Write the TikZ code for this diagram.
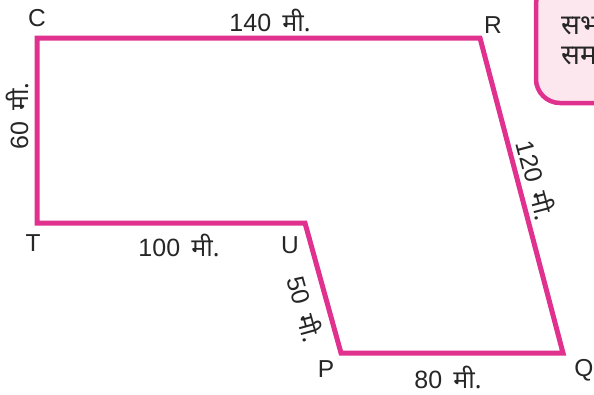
\documentclass[tikz,border=0pt]{standalone}
\usepackage{fontspec}
\setmainfont{Liberation Sans}
\newfontfamily\dev[Script=Devanagari]{Noto Sans}
\definecolor{mag}{HTML}{E0318F}
\definecolor{pinkfill}{HTML}{FDE7EF}
\begin{document}
\begin{tikzpicture}[x=1pt,y=-1pt,
  edge/.style={draw=mag,line width=5pt,line join=miter},
  lbl/.style={font=\fontsize{24.5}{28}\selectfont,inner sep=0pt,text=black!85},
  dim/.style={font=\fontsize{25}{28}\selectfont,inner sep=0pt,text=black!85}]
\useasboundingbox (0,0) rectangle (594,394);
\begin{scope}
\clip (0,0) rectangle (594,394);
\draw[draw=mag,fill=pinkfill,line width=4.5pt,rounded corners=24pt] (536,-20) -- (536,103) -- (640,103) -- (640,-20) -- cycle;
\node[dim,anchor=west,font=\fontsize{28}{30}\selectfont] (box1) at (561,26) {\dev सभ};
\node[dim,anchor=west,font=\fontsize{28}{30}\selectfont] (box2) at (561,56) {\dev सम};
\end{scope}
\coordinate (C) at (37,38);
\coordinate (R) at (480,38);
\coordinate (Q) at (563,353);
\coordinate (P) at (341,353);
\coordinate (U) at (305,223);
\coordinate (T) at (37,223);
\draw[edge] (C) -- (R) -- (Q) -- (P) -- (U) -- (T) -- cycle;
\node[lbl] (lC) at (37,18) {C};
\node[lbl] (lR) at (493,25) {R};
\node[lbl] (lQ) at (584,370) {Q};
\node[lbl] (lP) at (326,369) {P};
\node[lbl] (lU) at (290,245) {U};
\node[lbl] (lT) at (33,243) {T};
\node[dim] (dCR) at (270,20) {140\hspace{0.45em}{\dev मी.}};
\node[dim,rotate=90] (dTC) at (17,116) {60\hspace{0.45em}{\dev मी.}};
\node[dim] (dTU) at (179,245) {100\hspace{0.45em}{\dev मी.}};
\node[dim,rotate=-74.5] (dUP) at (306,309) {50\hspace{0.45em}{\dev मी.}};
\node[dim,rotate=-75.2] (dRQ) at (537,180) {120\hspace{0.45em}{\dev मी.}};
\node[dim] (dPQ) at (448,377) {80\hspace{0.45em}{\dev मी.}};
\end{tikzpicture}
\end{document}
